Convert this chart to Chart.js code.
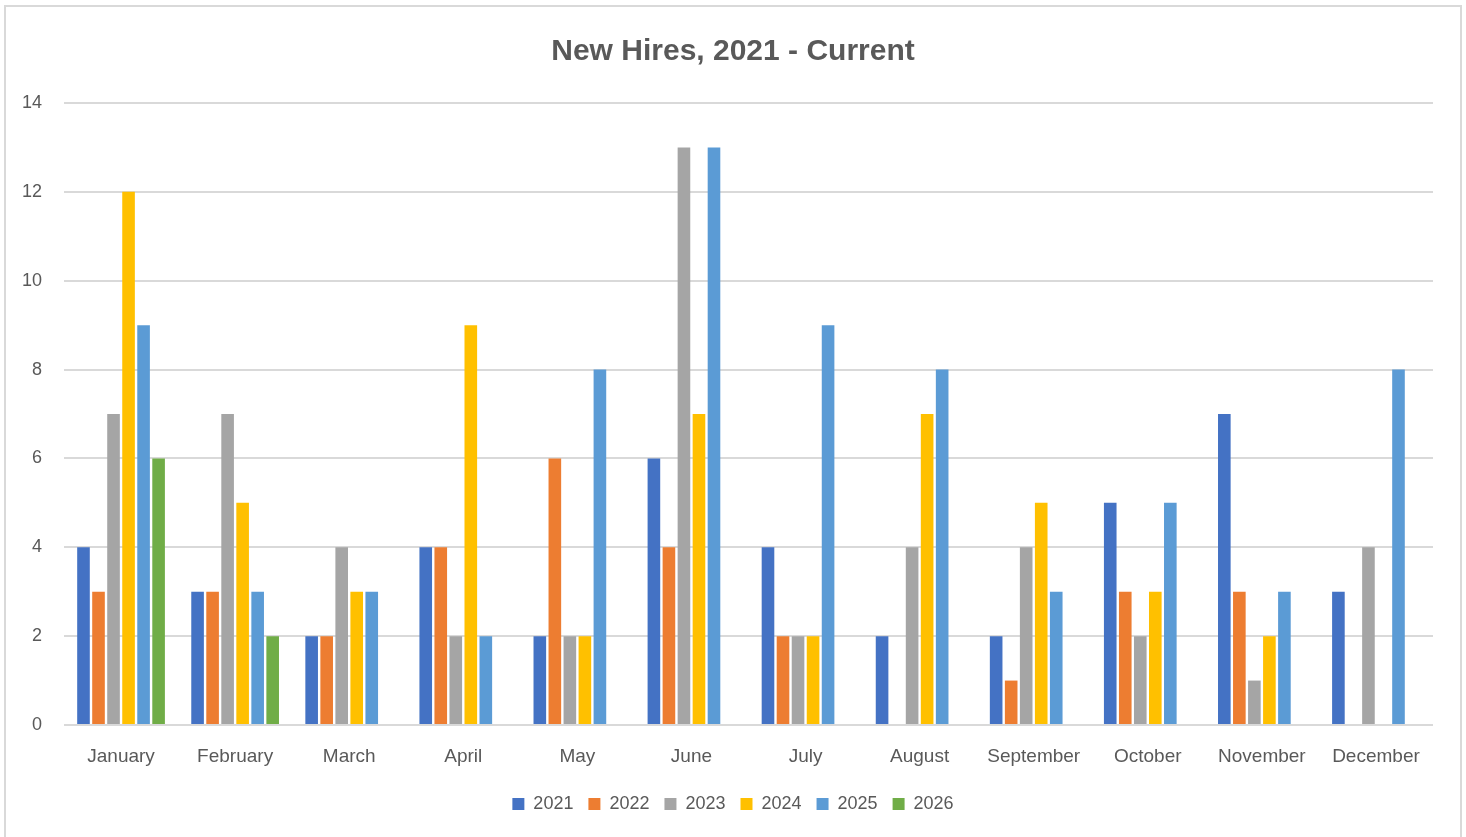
<!DOCTYPE html>
<html>
<head>
<meta charset="utf-8">
<title>New Hires, 2021 - Current</title>
<script src="https://cdn.jsdelivr.net/npm/chart.js@4.4.1/dist/chart.umd.min.js"></script>
<style>
    html, body { margin: 0; padding: 0; background: #fff; overflow: hidden; }
    #wrap { position: relative; width: 1466px; height: 837px; }
    #frame {
        position: absolute; left: 4px; top: 5px; width: 1458px; height: 900px;
        border: 2px solid #d9d9d9; box-sizing: border-box; pointer-events: none;
    }
</style>
</head>
<body>
<div id="wrap">
    <canvas id="barChart" width="1466" height="837"></canvas>
    <div id="frame"></div>
</div>
<script>
// chart data
const months = ["January", "February", "March", "April", "May", "June",
    "July", "August", "September", "October", "November", "December"];
const years = ["2021", "2022", "2023", "2024", "2025", "2026"];
const yTicks = [0, 2, 4, 6, 8, 10, 12, 14];

const hires2021 = [4, 3, 2, 4, 2, 6, 4, 2, 2, 5, 7, 3];
const hires2022 = [3, 3, 2, 4, 6, 4, 2, 0, 1, 3, 3, 0];
const hires2023 = [7, 7, 4, 2, 2, 13, 2, 4, 4, 2, 1, 4];
const hires2024 = [12, 5, 3, 9, 2, 7, 2, 7, 5, 3, 2, 0];
const hires2025 = [9, 3, 3, 2, 8, 13, 9, 8, 3, 5, 3, 8];
const hires2026 = [6, 2, null, null, null, null, null, null, null, null, null, null];

const seriesValues = [hires2021, hires2022, hires2023, hires2024, hires2025, hires2026];
const seriesColors = ["#4472C4", "#ED7D31", "#A5A5A5", "#FFC000", "#5B9BD5", "#70AD47"];

const textColor = "#595959";
const gridColor = "#d9d9d9";

Chart.defaults.font.family = "'Liberation Sans', Arial, sans-serif";
Chart.defaults.color = textColor;

const datasets = years.map((y, i) => ({
    label: y,
    data: seriesValues[i],
    backgroundColor: seriesColors[i],
    borderWidth: 0,
    categoryPercentage: 0.79,
    barPercentage: 0.84
}));

const ctx = document.getElementById("barChart").getContext("2d");
const chart = new Chart(ctx, {
    type: 'bar',
    data: { labels: months, datasets: datasets },
    options: {
        responsive: false,
        animation: false,
        layout: { padding: { left: 0, right: 0, top: 0, bottom: 14 } },
        scales: {
            x: {
                grid: { display: false },
                border: { display: false },
                ticks: { font: { size: 19 }, padding: 12, color: textColor, maxRotation: 0 },
                afterFit: (s) => { s.height = 55; }
            },
            y: {
                min: 0,
                max: 14,
                afterBuildTicks: (s) => { s.ticks = yTicks.map(v => ({ value: v })); },
                grid: { color: gridColor, lineWidth: 2, drawTicks: false },
                border: { display: false },
                ticks: { font: { size: 18 }, padding: 22, color: textColor },
                afterFit: (s) => { s.width = 64; }
            },
            // spacer so the plot ends where the reference does
            yRight: {
                position: 'right',
                grid: { display: false },
                border: { display: false },
                ticks: { display: false },
                afterFit: (s) => { s.width = 33; }
            }
        },
        plugins: {
            title: {
                display: true,
                text: "New Hires, 2021 - Current",
                color: textColor,
                font: { size: 30, weight: 'bold' },
                padding: { top: 34, bottom: 33 }
            },
            legend: {
                position: 'bottom',
                labels: {
                    boxWidth: 12,
                    boxHeight: 12,
                    padding: 15,
                    color: textColor,
                    font: { size: 18 }
                }
            },
            tooltip: { enabled: false }
        }
    }
});
</script>
</body>
</html>
